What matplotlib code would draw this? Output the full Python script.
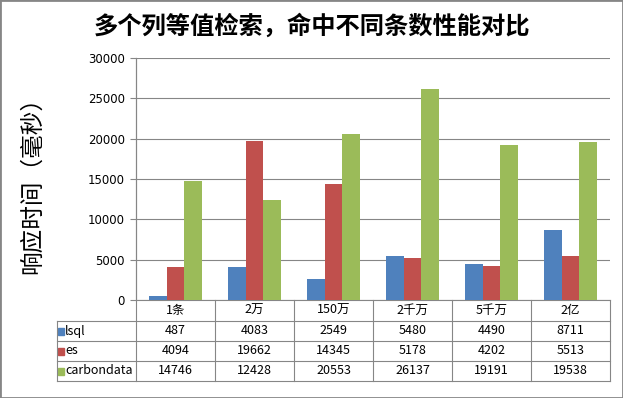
import matplotlib.pyplot as plt
import matplotlib.patches as patches
import numpy as np

plt.rcParams['font.family'] = ['Noto Sans CJK SC', 'DejaVu Sans']

categories = ["1条", "2万", "150万", "2千万", "5千万", "2亿"]
series_names = ["lsql", "es", "carbondata"]
lsql = [487, 4083, 2549, 5480, 4490, 8711]
es = [4094, 19662, 14345, 5178, 4202, 5513]
carbondata = [14746, 12428, 20553, 26137, 19191, 19538]
colors = ["#4F81BD", "#C0504D", "#9BBB59"]
yticks = [0, 5000, 10000, 15000, 20000, 25000, 30000]

W, H = 623, 398
fig = plt.figure(figsize=(W / 100, H / 100), dpi=100)

# plot area in pixels: x 136..610, y 58..300
left, right, top, bottom = 136, 610, 58, 300
ax = fig.add_axes([left / W, 1 - bottom / H, (right - left) / W, (bottom - top) / H])

x = np.arange(len(categories))
bw = 0.22
for i, vals in enumerate([lsql, es, carbondata]):
    ax.bar(x + (i - 1) * bw, vals, bw, color=colors[i], zorder=3)

ax.set_xlim(-0.5, len(categories) - 0.5)
ax.set_ylim(0, 30000)
ax.set_yticks(yticks)
ax.set_yticklabels([str(t) for t in yticks], fontsize=8.5, family='DejaVu Sans')
ax.set_xticks([])
ax.tick_params(axis='y', length=4, color='#868686', pad=4)
ax.grid(axis='y', color='#868686', linewidth=0.8, zorder=0)
for s in ['top', 'right', 'bottom']:
    ax.spines[s].set_visible(False)
ax.spines['left'].set_color('#868686')

# data table under the plot
px = 1.0 / (bottom - top)
rows_y = [0, -21 * px, -41 * px, -61 * px, -81 * px]
tab_left = (57 - left) / (right - left)
line_kw = dict(transform=ax.transAxes, color='#868686', linewidth=0.8, clip_on=False)
ax.plot([0, 1], [0, 0], **line_kw)
for yv in rows_y[1:]:
    ax.plot([tab_left, 1], [yv, yv], **line_kw)
ax.plot([0, 0], [1, rows_y[-1]], **line_kw)
ax.plot([tab_left, tab_left], [rows_y[1], rows_y[-1]], **line_kw)
n = len(categories)
for j in range(1, n + 1):
    ax.plot([j / n, j / n], [0, rows_y[-1]], **line_kw)

for j, c in enumerate(categories):
    ax.text((j + 0.5) / n, rows_y[0] / 2 + rows_y[1] / 2, c, transform=ax.transAxes,
            ha='center', va='center', fontsize=9)

for i, (name, vals) in enumerate(zip(series_names, [lsql, es, carbondata])):
    yc = (rows_y[i + 1] + rows_y[i + 2]) / 2
    sq = 6 / (right - left)
    ax.add_patch(patches.Rectangle((tab_left + 1 / (right - left), yc - 3.5 * px), sq, 7 * px,
                                   transform=ax.transAxes, color=colors[i], clip_on=False))
    ax.text(tab_left + 8 / (right - left), yc, name, transform=ax.transAxes,
            ha='left', va='center', fontsize=9)
    for j, v in enumerate(vals):
        ax.text((j + 0.5) / n, yc, str(v), transform=ax.transAxes,
                ha='center', va='center', fontsize=9)

fig.text(312 / W, 1 - 26 / H, "多个列等值检索，命中不同条数性能对比",
         ha='center', va='center', fontsize=17.5, fontweight='bold')
fig.text(32 / W, 1 - 180 / H, "响应时间（毫秒）", rotation=90,
         ha='center', va='center', fontsize=17)

fig.patches.append(patches.Rectangle((0, 0), 1, 1, transform=fig.transFigure,
                                     fill=False, edgecolor='#868686', linewidth=2))

fig.savefig("out.png", dpi=100)
